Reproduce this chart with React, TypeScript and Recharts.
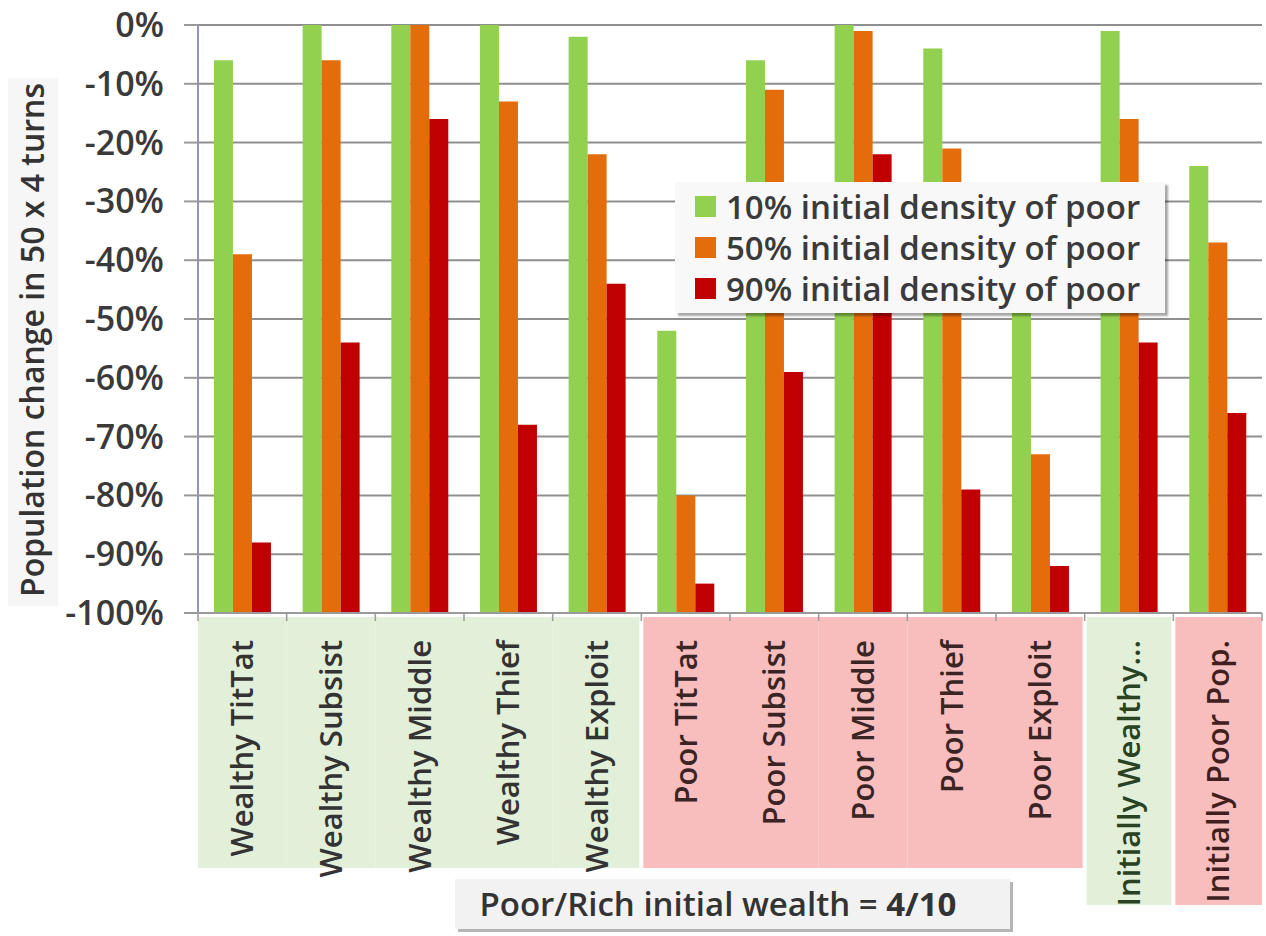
import React from 'react';
import { BarChart, Bar, XAxis, YAxis, CartesianGrid, Legend } from 'recharts';

// categories along the x axis, with the group each one belongs to
const categories = [
  'Wealthy TitTat',
  'Wealthy Subsist',
  'Wealthy Middle',
  'Wealthy Thief',
  'Wealthy Exploit',
  'Poor TitTat',
  'Poor Subsist',
  'Poor Middle',
  'Poor Thief',
  'Poor Exploit',
  'Initially Wealthy...',
  'Initially Poor Pop.',
];
const categoryGroups = [
  'wealthy', 'wealthy', 'wealthy', 'wealthy', 'wealthy',
  'poor', 'poor', 'poor', 'poor', 'poor',
  'initWealthy', 'initPoor',
];

// population change (%) per initial density of poor
const density10 = [-6, 0, 0, 0, -2, -52, -6, 0, -4, -30, -1, -24];
const density50 = [-39, -6, 0, -13, -22, -80, -11, -1, -21, -73, -16, -37];
const density90 = [-88, -54, -16, -68, -44, -95, -59, -22, -79, -92, -54, -66];

const seriesNames = [
  '10% initial density of poor',
  '50% initial density of poor',
  '90% initial density of poor',
];
const yTicks = [0, -10, -20, -30, -40, -50, -60, -70, -80, -90, -100];
const AXIS_FLOOR = -100;

const COLORS = ['#92D050', '#E46C0A', '#C00000'];
const GROUP_FILL: Record<string, string> = {
  wealthy: '#E2EFD9',
  poor: '#F8BEBE',
  initWealthy: '#E2EFD9',
  initPoor: '#F8BEBE',
};
const GROUP_TEXT: Record<string, string> = {
  wealthy: '#333333',
  poor: '#3a2424',
  initWealthy: '#2a4224',
  initPoor: '#421f1f',
};

const FONT = '"Open Sans", sans-serif';
const W = 1266;
const H = 936;
const Y_AXIS_W = 198;
const M_TOP = 25;
const M_RIGHT = 4;
const PLOT_BOTTOM = 613;
const BAND = (W - Y_AXIS_W - M_RIGHT) / categories.length;

const data = categories.map((name, i) => ({
  name,
  d10: density10[i],
  d50: density50[i],
  d90: density90[i],
}));

function CategoryTick(props: any) {
  const { x, payload } = props;
  const i = payload.index;
  const n = categories.length;
  const g = categoryGroups[i];
  const startsGroup = i > 0 && categoryGroups[i - 1] !== g;
  const endsGroup = i < n - 1 && categoryGroups[i + 1] !== g;
  const left = x - BAND / 2 + (startsGroup ? 2 : 0);
  const right = x + BAND / 2 - (endsGroup ? 2 : 0);
  const tall = g.startsWith('init');
  const top = PLOT_BOTTOM + 4;
  const bottom = tall ? 905 : 868;
  return (
    <g>
      <rect x={left} y={top} width={right - left} height={bottom - top} fill={GROUP_FILL[g]} />
      <line x1={x - BAND / 2} x2={x - BAND / 2} y1={PLOT_BOTTOM} y2={PLOT_BOTTOM + 8} stroke="#9a9a9a" strokeWidth={1.5} />
      {i === n - 1 && (
        <line x1={x + BAND / 2} x2={x + BAND / 2} y1={PLOT_BOTTOM} y2={PLOT_BOTTOM + 8} stroke="#9a9a9a" strokeWidth={1.5} />
      )}
      <text
        transform={`translate(${x},${PLOT_BOTTOM + 27}) rotate(-90)`}
        textAnchor="end"
        dy="0.35em"
        fontFamily={FONT}
        fontSize={31}
        fontWeight={600}
        fill={GROUP_TEXT[g]}
      >
        {payload.value}
      </text>
    </g>
  );
}

function BottomNote() {
  return (
    <g>
      <rect x={458} y={882} width={555} height={50} fill="#b5b5b5" />
      <rect x={455} y={879} width={555} height={50} fill="#f2f2f2" />
      <text x={718} y={904} dy="0.35em" textAnchor="middle" fontFamily={FONT} fontSize={33} fontWeight={600} fill="#333">
        Poor/Rich initial wealth = <tspan fontWeight="bold">4/10</tspan>
      </text>
    </g>
  );
}

function YTitle() {
  return (
    <g>
      <rect x={8} y={78} width={50} height={528} fill="#f6f6f6" />
      <text
        transform="translate(33,340) rotate(-90)"
        textAnchor="middle"
        dy="0.35em"
        fontFamily={FONT}
        fontSize={32}
        fontWeight={600}
        fill="#333"
      >
        Population change in 50 x 4 turns
      </text>
    </g>
  );
}

function LegendBox() {
  return (
    <div
      style={{
        background: '#f8f8f8',
        boxShadow: '3px 3px 2px rgba(0,0,0,0.35)',
        padding: '4px 0 4px 20px',
        fontFamily: FONT,
        fontSize: 33,
        fontWeight: 600,
        color: '#3a3a3a',
        boxSizing: 'border-box',
      }}
    >
      {seriesNames.map((s, i) => (
        <div key={s} style={{ display: 'flex', alignItems: 'center', height: 41 }}>
          <span style={{ width: 21, height: 21, background: COLORS[i], marginRight: 10, flexShrink: 0 }} />
          <span style={{ whiteSpace: 'nowrap', lineHeight: '41px' }}>{s}</span>
        </div>
      ))}
    </div>
  );
}

export default function App() {
  return (
    <div style={{ position: 'absolute', left: 0, top: 0, width: W, height: H, background: '#fff' }}>
      <BarChart
        width={W}
        height={H}
        data={data}
        margin={{ top: M_TOP, right: M_RIGHT, left: 0, bottom: 0 }}
        barCategoryGap="18%"
        barGap={0}
      >
        <CartesianGrid vertical={false} stroke="#8f8f8f" strokeWidth={2} />
        <XAxis
          dataKey="name"
          interval={0}
          height={H - PLOT_BOTTOM}
          tickLine={false}
          axisLine={{ stroke: '#9a9a9a', strokeWidth: 2 }}
          tick={<CategoryTick />}
          label={() => <BottomNote />}
        />
        <YAxis
          width={Y_AXIS_W}
          domain={[AXIS_FLOOR, 0]}
          ticks={yTicks}
          interval={0}
          tickSize={14}
          tickMargin={20}
          tickLine={{ stroke: '#999', strokeWidth: 2 }}
          axisLine={{ stroke: '#8d96b4', strokeWidth: 2 }}
          tickFormatter={(v: number) => `${v}%`}
          tick={{ fontFamily: FONT, fontSize: 34, fontWeight: 600, fill: '#3a3a3a' }}
          label={() => <YTitle />}
        />
        <Legend
          layout="vertical"
          align="center"
          verticalAlign="middle"
          content={() => <LegendBox />}
          wrapperStyle={{ left: 675, top: 182, width: 490, height: 131 }}
        />
        <Bar name={seriesNames[0]} dataKey={(d: any) => [AXIS_FLOOR, d.d10]} fill={COLORS[0]} isAnimationActive={false} />
        <Bar name={seriesNames[1]} dataKey={(d: any) => [AXIS_FLOOR, d.d50]} fill={COLORS[1]} isAnimationActive={false} />
        <Bar name={seriesNames[2]} dataKey={(d: any) => [AXIS_FLOOR, d.d90]} fill={COLORS[2]} isAnimationActive={false} />
      </BarChart>
    </div>
  );
}
